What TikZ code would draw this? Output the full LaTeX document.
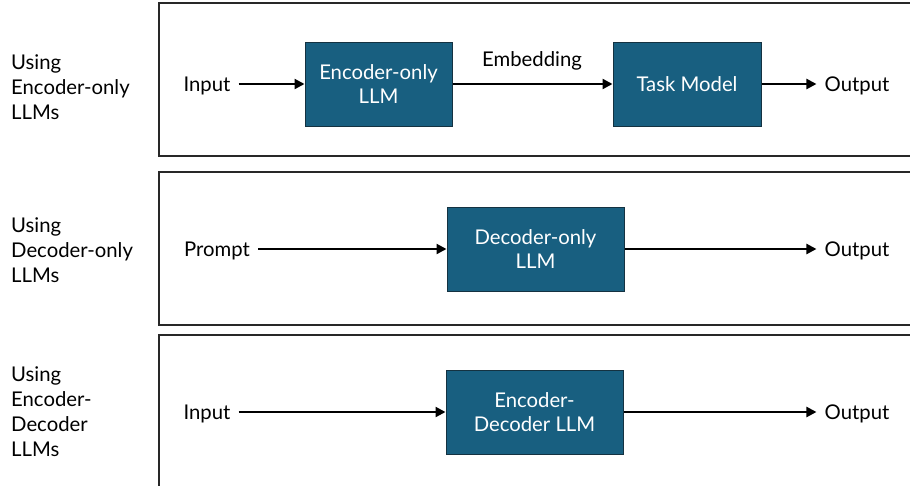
\documentclass[tikz,border=0pt]{standalone}
\usepackage{fontspec}
\setmainfont{Lato}
\usetikzlibrary{arrows.meta,calc}
\definecolor{boxblue}{RGB}{24,95,128}
\definecolor{boxedge}{RGB}{20,50,65}
\definecolor{framec}{RGB}{40,40,40}
\begin{document}
\begin{tikzpicture}[x=1pt,y=-1pt,
  frame/.style={draw=framec,line width=1.3pt},
  llm/.style={draw=boxedge,fill=boxblue,line width=1pt,text=white,align=center,font=\fontsize{20.3}{24}\selectfont,inner sep=0pt},
  lbl/.style={font=\fontsize{20.3}{24}\selectfont,inner sep=0pt},
  side/.style={font=\fontsize{20.3}{25}\selectfont,align=left,anchor=west,inner sep=0pt},
  flow/.style={-{Triangle[length=10pt,width=10pt]},line width=2.2pt,black}]
\useasboundingbox (0,0) rectangle (910,485);
\clip (0,0) rectangle (910,485);
% frames
\draw[frame] (159,3) rectangle (930,156);
\draw[frame] (159,172) rectangle (930,325);
\draw[frame] (159,335) rectangle (930,500);
% side labels
\node[side] (s1) at (11,87) {Using\\Encoder-only\\LLMs};
\node[side] (s2) at (11,250) {Using\\Decoder-only\\LLMs};
\node[side] (s3) at (11,412) {Using\\Encoder-\\Decoder\\LLMs};
% row 1
\node[lbl] (in1) at (207,85.5) {Input};
\node[llm,minimum width=147pt,minimum height=84pt] (enc) at (378.5,84) {Encoder-only\\LLM};
\node[llm,minimum width=148pt,minimum height=84pt] (task) at (687,84) {Task Model};
\node[lbl] (out1) at (857,85.5) {Output};
\node[lbl] (emb) at (532,60.5) {Embedding};
\draw[flow] ($(in1.east |- enc.west)+(8,0)$) -- (enc.west);
\draw[flow] (enc.east) -- (task.west);
\draw[flow] (task.east) -- ($(out1.west |- task.east)+(-8,0)$);
% row 2
\node[lbl] (pr) at (217,250.5) {Prompt};
\node[llm,minimum width=177pt,minimum height=84pt] (dec) at (535.5,249) {Decoder-only\\LLM};
\node[lbl] (out2) at (857,250.5) {Output};
\draw[flow] ($(pr.east |- dec.west)+(8,0)$) -- (dec.west);
\draw[flow] (dec.east) -- ($(out2.west |- dec.east)+(-8,0)$);
% row 3
\node[lbl] (in3) at (207,413.5) {Input};
\node[llm,minimum width=177pt,minimum height=84pt] (ed) at (534.5,412) {Encoder-\\Decoder LLM};
\node[lbl] (out3) at (857,413.5) {Output};
\draw[flow] ($(in3.east |- ed.west)+(8,0)$) -- (ed.west);
\draw[flow] (ed.east) -- ($(out3.west |- ed.east)+(-8,0)$);
\end{tikzpicture}
\end{document}
